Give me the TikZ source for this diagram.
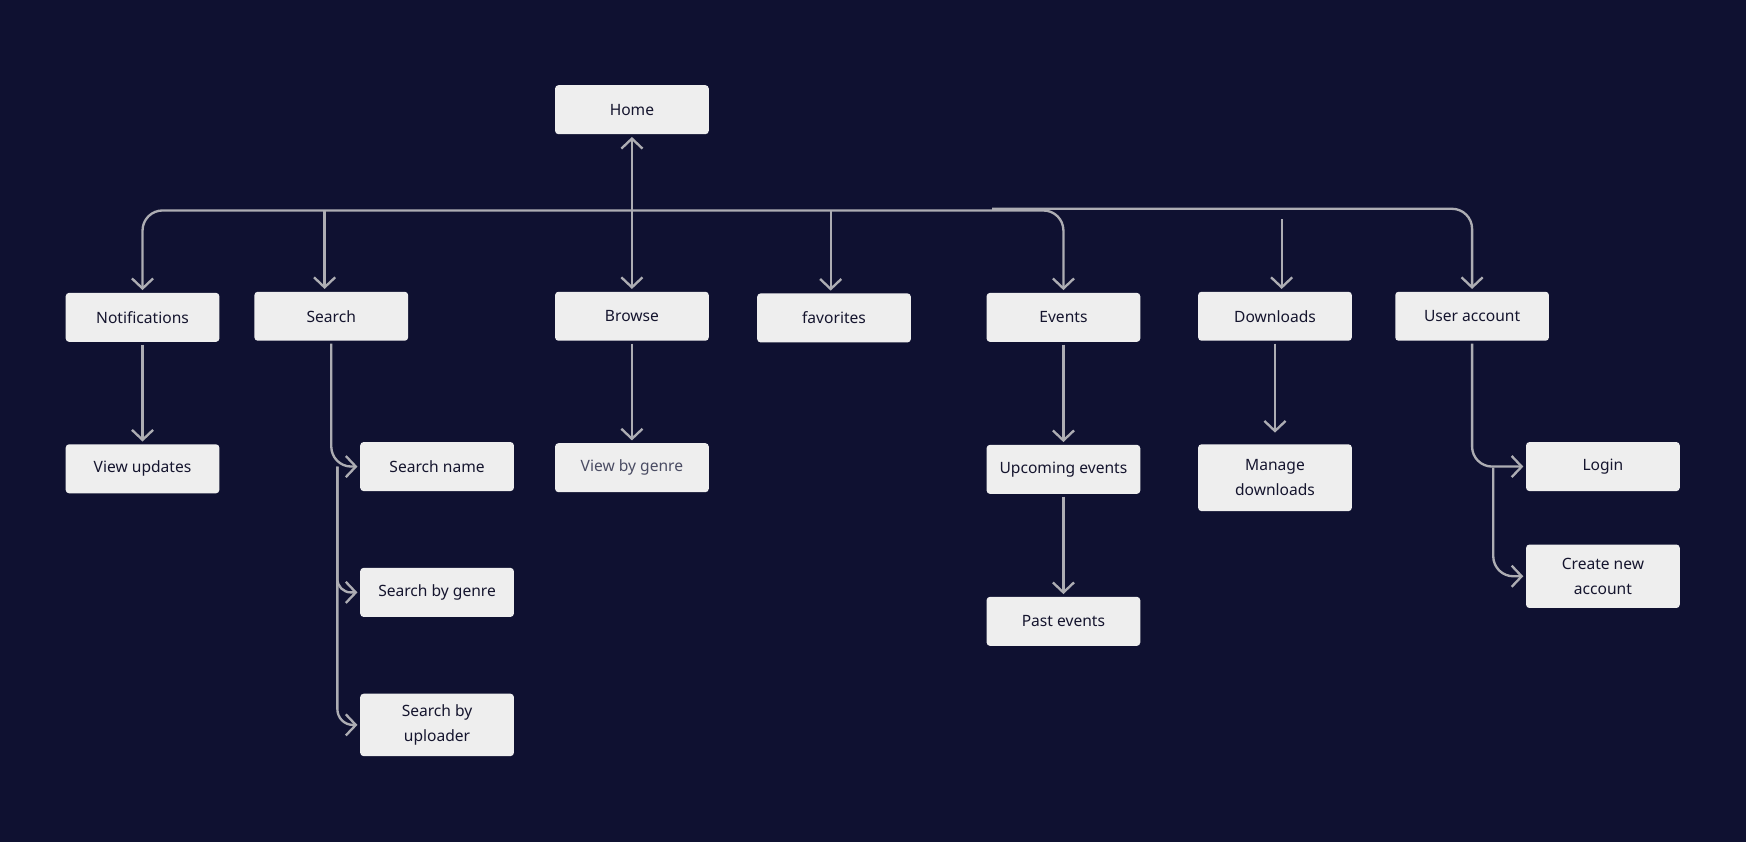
\documentclass[tikz,border=0pt]{standalone}
\usepackage{fontspec}
\setmainfont{Noto Sans}
\usetikzlibrary{arrows.meta,positioning}
\definecolor{bgnavy}{HTML}{0F1131}
\definecolor{boxgray}{HTML}{EEEEEE}
\definecolor{linkgray}{HTML}{ADADB3}
\definecolor{inknavy}{HTML}{15152E}
\definecolor{softink}{HTML}{4A4C63}
\tikzset{
	box/.style={fill=boxgray,rounded corners=3pt,minimum width=138pt,minimum height=44pt,
		inner sep=0pt,outer sep=2.5pt,align=center,text=inknavy,font=\fontsize{14}{22}\selectfont},
	link/.style={draw=linkgray,line width=2.1pt,
		>={Straight Barb[length=9pt,width=19pt]}},
}
\begin{document}
\begin{tikzpicture}[x=1pt,y=-1pt]
		\fill[bgnavy] (0,0) rectangle (1568,756);
		\useasboundingbox (0,0) rectangle (1568,756);
		% 顶层
		\node[box] (home) at (567.5,98.5) {Home};
		% 第一层
		\node[box] (notif) at (128,285) {Notifications};
		\node[box] (search) at (297.5,284) {Search};
		\node[box] (browse) at (567.5,284) {Browse};
		\node[box] (fav) at (749,285.5) {favorites};
		\node[box] (events) at (955,285) {Events};
		\node[box] (downloads) at (1145,284) {Downloads};
		\node[box] (user) at (1322,284) {User account};
		% 第二层
		\node[box] (viewupd) at (128,421) {View updates};
		\node[box] (sname) at (392.5,419) {Search name};
		\node[box,text=softink] (viewgenre) at (567.5,420) {View by genre};
		\node[box] (upcoming) at (955,421.5) {Upcoming events};
		\node[box,minimum height=60pt] (managedl) at (1145,429) {Manage\\downloads};
		\node[box] (login) at (1439.5,419) {Login};
		% 更深层
		\node[box] (sgenre) at (392.5,532) {Search by genre};
		\node[box] (past) at (955,558) {Past events};
		\node[box,minimum height=57pt] (newacc) at (1439.5,517.5) {Create new\\account};
		\node[box,minimum height=56pt] (suploader) at (392.5,651) {Search by\\uploader};
		% 总线
		\coordinate (busL) at (0,189);
		\coordinate (busR) at (891,187.5);
		\coordinate (dltop) at (1151,197);
		\coordinate (sfork) at (303,419);
		\coordinate (ufork) at (1341,420);
		\draw[link,<->] (home) -- (browse);
		\draw[link,<->,rounded corners=18pt] (notif.north) -- (notif.north |- busL)
			-- (events.north |- busL) -- (events.north);
		\draw[link,->,rounded corners=18pt] (busR) -| (user.north);
		\draw[link,->] ([xshift=-6pt]search.north |- busL) -- ([xshift=-6pt]search.north);
		\draw[link,->] ([xshift=-3pt]fav.north |- busL) -- ([xshift=-3pt]fav.north);
		\draw[link,->] (dltop) -- (dltop |- downloads.north);
		% 子页面
		\draw[link,->] (notif) -- (viewupd);
		\draw[link,->] (browse) -- (viewgenre);
		\draw[link,->] (events) -- (upcoming);
		\draw[link,->] (upcoming) -- (past);
		\draw[link,->,shorten >=8pt] (downloads) -- (managedl);
		\draw[link,->,rounded corners=18pt] (search.south) |- (sname.west);
		\draw[link,->,rounded corners=12pt] (sfork) |- (sgenre.west);
		\draw[link,->,rounded corners=14pt] (sfork) |- (suploader.west);
		\draw[link,->,rounded corners=18pt] (user.south) |- (login.west);
		\draw[link,->,rounded corners=18pt] (ufork) |- (newacc.west);
	\end{tikzpicture}
\end{document}
